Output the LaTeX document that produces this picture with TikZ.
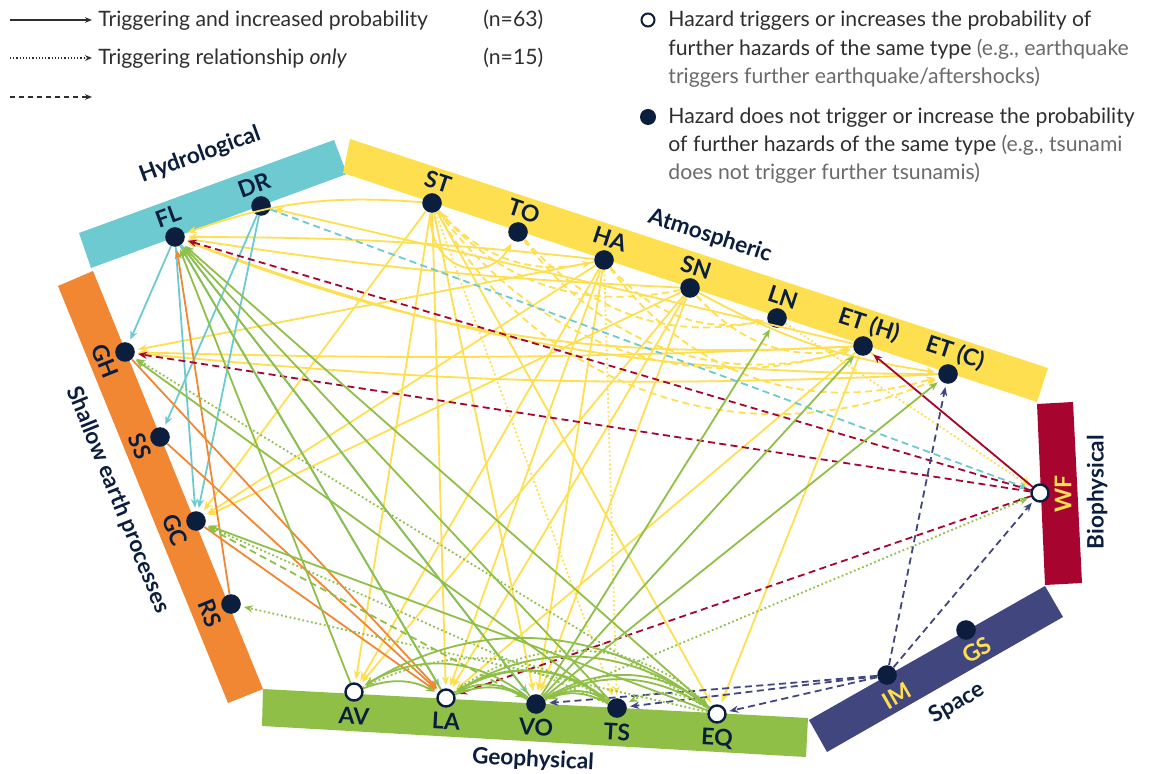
\documentclass[tikz,border=0pt]{standalone}
\usepackage{fontspec}
\setmainfont{Lato}
\usepackage{tikz}
\usepackage{xcolor}
\usetikzlibrary{arrows.meta}

\definecolor{navy}{HTML}{0B1E3D}
\definecolor{hydcol}{HTML}{6DCAD1}
\definecolor{atmcol}{HTML}{FEDF4F}
\definecolor{shacol}{HTML}{F18733}
\definecolor{biocol}{HTML}{A70430}
\definecolor{spacol}{HTML}{42467F}
\definecolor{geocol}{HTML}{8FBF47}
\definecolor{legcol}{HTML}{2E2E2E}
\definecolor{egcol}{HTML}{6A6A6A}

\begin{document}
\begin{tikzpicture}[x=0.5pt,y=-0.5pt]
        \tikzstyle{hz}=[circle,fill=navy,minimum size=9.8pt,inner sep=0pt]
        \tikzstyle{hzo}=[circle,draw=navy,fill=white,line width=1.2pt,minimum size=8.5pt,inner sep=0pt]
        \tikzstyle{lab}=[text=navy,font=\bfseries\fontsize{11.5}{13}\selectfont,inner sep=0pt]
        \tikzstyle{grp}=[text=navy,font=\bfseries\fontsize{11.3}{13}\selectfont,inner sep=0pt]
        \tikzstyle{ylab}=[lab,text=atmcol]
        \tikzstyle{trig}=[line width=0.9pt,-{Stealth[length=4.5pt,width=3.6pt]},shorten >=1.5pt]
        \tikzstyle{tonly}=[trig,dash pattern=on 0.9pt off 1.3pt]
        \tikzstyle{prob}=[trig,dash pattern=on 3.5pt off 2.2pt]
        \tikzstyle{leg}=[text=legcol,font=\fontsize{10.6}{12}\selectfont,inner sep=0pt,anchor=base west]
        \tikzstyle{legarrow}=[legcol,line width=0.6pt,-{Stealth[length=3.5pt,width=2.8pt]}]
        \useasboundingbox (0,0) rectangle (1171,774);

        % bands
        \fill[hydcol] (79,233) -- (334,140) -- (347,174) -- (91,268) -- cycle;
        \fill[atmcol] (350,139) -- (1048,368) -- (1037,402) -- (343,173) -- cycle;
        \fill[biocol] (1037,404) -- (1073,402) -- (1082,583) -- (1045,585) -- cycle;
        \fill[spacol] (1045,586) -- (1063,617) -- (827,752) -- (809,720) -- cycle;
        \fill[geocol] (263,689) -- (808,718) -- (806,757) -- (262,726) -- cycle;
        \fill[shacol] (58,286) -- (93,271) -- (263,689) -- (228,703) -- cycle;

        % group names
        \node[grp,rotate=20] (gHyd) at (200,155) {Hydrological};
        \node[grp,rotate=-18] (gAtm) at (710,236) {Atmospheric};
        \node[grp,rotate=-68] (gSha) at (118,500) {Shallow earth processes};
        \node[grp,rotate=-3] (gGeo) at (533,760) {Geophysical};
        \node[grp,rotate=30] (gSpa) at (957,703) {Space};
        \node[grp,rotate=90] (gBio) at (1097,492) {Biophysical};

        % hazards
        \node[hz] (FL) at (175,237) {};
        \node[hz] (DR) at (261,206) {};
        \node[hz] (ST) at (432,203) {};
        \node[hz] (TO) at (518,232) {};
        \node[hz] (HA) at (604,260) {};
        \node[hz] (SN) at (690,288) {};
        \node[hz] (LN) at (777,318) {};
        \node[hz] (ETH) at (863,346) {};
        \node[hz] (ETC) at (948,374) {};
        \node[hzo] (WF) at (1040,493) {};
        \node[hz] (GS) at (966,630) {};
        \node[hz] (IM) at (887,675) {};
        \node[hzo] (EQ) at (717,714) {};
        \node[hz] (TS) at (617,708) {};
        \node[hz] (VO) at (536,704) {};
        \node[hzo] (LA) at (446,698) {};
        \node[hzo] (AV) at (354,692) {};
        \node[hz] (RS) at (231,604) {};
        \node[hz] (GC) at (196,521) {};
        \node[hz] (SS) at (160,437) {};
        \node[hz] (GH) at (125,352) {};

        % hazard names
        \node[lab,rotate=20] (lFL) at (168,216) {FL};
        \node[lab,rotate=20] (lDR) at (254,185) {DR};
        \node[lab,rotate=-18] (lST) at (438,182) {ST};
        \node[lab,rotate=-18] (lTO) at (524,211) {TO};
        \node[lab,rotate=-18] (lHA) at (610,239) {HA};
        \node[lab,rotate=-18] (lSN) at (696,267) {SN};
        \node[lab,rotate=-18] (lLN) at (783,297) {LN};
        \node[lab,rotate=-18] (lETH) at (869,325) {ET (H)};
        \node[lab,rotate=-18] (lETC) at (955,353) {ET (C)};
        \node[ylab,rotate=90] (lWF) at (1063,494) {WF};
        \node[ylab,rotate=30] (lGS) at (977,650) {GS};
        \node[ylab,rotate=30] (lIM) at (897,696) {IM};
        \node[lab,rotate=-3] (lEQ) at (717,739) {EQ};
        \node[lab,rotate=-3] (lTS) at (617,732) {TS};
        \node[lab,rotate=-3] (lVO) at (536,727) {VO};
        \node[lab,rotate=-3] (lLA) at (446,721) {LA};
        \node[lab,rotate=-3] (lAV) at (354,716) {AV};
        \node[lab,rotate=-68] (lRS) at (210,613) {RS};
        \node[lab,rotate=-68] (lGC) at (175,530) {GC};
        \node[lab,rotate=-68] (lSS) at (140,446) {SS};
        \node[lab,rotate=-68] (lGH) at (105,361) {GH};

        % atmospheric
        \draw[trig,atmcol] (ST) to[bend right=12] (FL);
        \draw[trig,atmcol] (HA) to[bend right=3] (FL);
        \draw[trig,atmcol] (SN) to[bend left=3] (FL);
        \draw[trig,atmcol] (ETH) to[bend left=12] (FL);
        \draw[trig,atmcol] (ETC) to[bend left=10] (FL);
        \draw[trig,atmcol] (ETH) to (DR);
        \draw[trig,atmcol] (ST) to[out=-95,in=-120,looseness=1.6] (TO);
        \draw[trig,atmcol] (HA) to (GH);
        \draw[trig,atmcol] (ETH) to[bend left=2] (GH);
        \draw[trig,atmcol] (ETC) to[bend left=4] (GH);
        \draw[trig,atmcol] (ST) to (GC);
        \draw[trig,atmcol] (HA) to (GC);
        \draw[trig,atmcol] (SN) to (GC);
        \draw[trig,atmcol] (ST) to (AV);
        \draw[trig,atmcol] (HA) to (AV);
        \draw[trig,atmcol] (SN) to (AV);
        \draw[trig,atmcol] (ST) to (LA);
        \draw[trig,atmcol] (HA) to (LA);
        \draw[trig,atmcol] (SN) to (LA);
        \draw[trig,atmcol] (ETH) to (LA);
        \draw[trig,atmcol] (ST) to (VO);
        \draw[trig,atmcol] (HA) to (VO);
        \draw[trig,atmcol] (SN) to (VO);
        \draw[trig,atmcol] (ST) to (EQ);
        \draw[trig,atmcol] (ETH) to (EQ);
        \draw[trig,atmcol] (SN) to[bend right=10] (ETC);
        \draw[tonly,atmcol] (ST) to (TS);
        \draw[tonly,atmcol] (LN) to (WF);
        \draw[tonly,atmcol] (HA) to (TS);
        \draw[prob,atmcol] (ETH) to (WF);
        \draw[prob,atmcol] (ST) to[bend right=30] (HA);
        \draw[prob,atmcol] (ST) to[bend right=35] (ETH);
        \draw[prob,atmcol] (ST) to[bend right=42] (ETC);
        \draw[prob,atmcol] (TO) to[bend right=35] (ETH);
        \draw[prob,atmcol] (HA) to[bend right=35] (ETC);
        \draw[prob,atmcol] (SN) to[bend right=30] (ETH);
        \draw[prob,atmcol] (HA) to[bend right=30] (LN);
        \draw[prob,atmcol] (TO) to[bend right=30] (LN);
        \draw[prob,atmcol] (SN) to[bend left=30] (ST);

        % hydrological
        \draw[trig,hydcol] (FL) to (GH);
        \draw[trig,hydcol] (FL) to (GC);
        \draw[trig,hydcol] (FL) to (LA);
        \draw[trig,hydcol] (FL) to (VO);
        \draw[trig,hydcol] (DR) to (SS);
        \draw[trig,hydcol] (DR) to (GC);
        \draw[prob,hydcol] (DR) to (WF);

        % shallow earth processes
        \draw[trig,shacol] (GH) to (LA);
        \draw[trig,shacol] (SS) to (LA);
        \draw[trig,shacol] (GC) to (LA);
        \draw[trig,shacol] (RS) to (FL);

        % biophysical
        \draw[trig,biocol] (WF) to (ETH);
        \draw[prob,biocol] (WF) to (FL);
        \draw[prob,biocol] (WF) to (GH);
        \draw[prob,biocol] (WF) to (LA);

        % space
        \draw[prob,spacol] (IM) to (ETC);
        \draw[prob,spacol] (IM) to (WF);
        \draw[prob,spacol] (IM) to (VO);
        \draw[prob,spacol] (IM) to (TS);
        \draw[prob,spacol] (IM) to (EQ);

        % geophysical
        \draw[trig,geocol] (AV) to (FL);
        \draw[trig,geocol] (LA) to (FL);
        \draw[trig,geocol] (VO) to (FL);
        \draw[trig,geocol] (TS) to (FL);
        \draw[trig,geocol] (EQ) to (FL);
        \draw[trig,geocol] (TS) to (GH);
        \draw[trig,geocol] (EQ) to (GC);
        \draw[trig,geocol] (VO) to (LN);
        \draw[trig,geocol] (VO) to (ETH);
        \draw[trig,geocol] (VO) to (ETC);
        \draw[trig,geocol] (AV) to[bend left=25] (LA);
        \draw[trig,geocol] (LA) to[bend left=25] (VO);
        \draw[trig,geocol] (VO) to[bend right=35] (AV);
        \draw[trig,geocol] (VO) to[bend right=30] (LA);
        \draw[trig,geocol] (EQ) to[bend right=35] (AV);
        \draw[trig,geocol] (EQ) to[bend right=35] (LA);
        \draw[trig,geocol] (EQ) to[bend right=30] (VO);
        \draw[trig,geocol] (TS) to[bend right=35] (LA);
        \draw[trig,geocol] (VO) to[bend left=30] (TS);
        \draw[trig,geocol] (VO) to[bend left=35] (EQ);
        \draw[trig,geocol] (LA) to[bend left=35] (TS);
        \draw[trig,geocol] (TS) to[bend right=25] (VO);
        \draw[tonly,geocol] (VO) to (WF);
        \draw[tonly,geocol] (EQ) to (GH);
        \draw[tonly,geocol] (TS) to (GC);
        \draw[tonly,geocol] (EQ) to (RS);
        \draw[tonly,geocol] (EQ) to[bend right=30] (TS);
        \draw[tonly,geocol] (LA) to[bend left=40] (EQ);
        \draw[tonly,geocol] (AV) to[bend left=30] (TS);
        \draw[prob,geocol] (VO) to (GC);

        % legend
        \coordinate (a1) at (10,20);
        \coordinate (b1) at (92,20);
        \coordinate (a2) at (10,58);
        \coordinate (b2) at (92,58);
        \coordinate (a3) at (10,97);
        \coordinate (b3) at (92,97);
        \draw[legarrow] (a1) -- (b1);
        \draw[legarrow,dash pattern=on 0.6pt off 1pt] (a2) -- (b2);
        \draw[legarrow,dash pattern=on 2.5pt off 2pt] (a3) -- (b3);
        \node[leg] (t1) at (98,27) {Triggering and increased probability};
        \node[leg] (n1) at (483,27) {(n=63)};
        \node[leg] (t2) at (98,65) {Triggering relationship \textit{only}};
        \node[leg] (n2) at (483,65) {(n=15)};

        \node[hzo,minimum size=6.5pt,line width=1pt] (k1) at (648,20) {};
        \node[leg] (k1a) at (668,27) {Hazard triggers or increases the probability of};
        \node[leg] (k1b) at (668,56) {further hazards of the same type {\color{egcol}(e.g., earthquake}};
        \node[leg] (k1c) at (668,84) {\color{egcol}triggers further earthquake/aftershocks)};
        \node[hz,minimum size=8pt] (k2) at (648,117) {};
        \node[leg] (k2a) at (668,124) {Hazard does not trigger or increase the probability};
        \node[leg] (k2b) at (668,152) {of further hazards of the same type {\color{egcol}(e.g., tsunami}};
        \node[leg] (k2c) at (668,180) {\color{egcol}does not trigger further tsunamis)};
\end{tikzpicture}
\end{document}
